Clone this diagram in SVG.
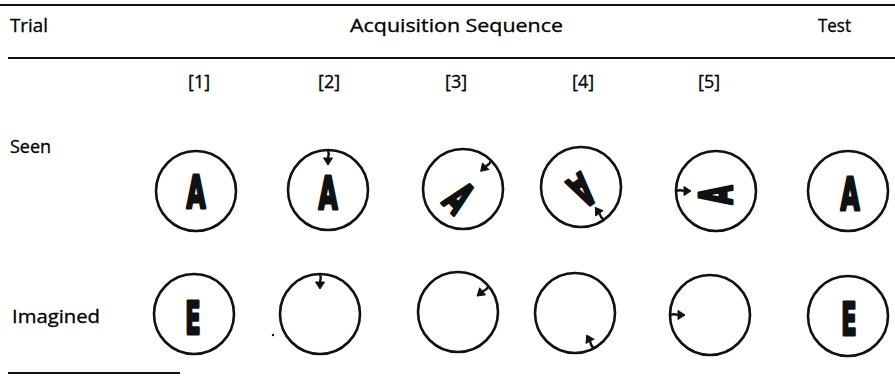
<svg xmlns="http://www.w3.org/2000/svg" width="895" height="376" viewBox="0 0 895 376">
<style>
.lbl{font-family:"Open Sans","Liberation Sans",sans-serif;font-size:18px;fill:#000;stroke:#000;stroke-width:0.3}
.rule{stroke:#111;stroke-width:2;fill:none}
.ring{stroke:#111;stroke-width:2.6;fill:none}
.glyph{font-family:"DejaVu Sans","Liberation Sans",sans-serif;font-weight:bold;font-size:45px;fill:#111;stroke:#111;stroke-width:3;stroke-linejoin:round;text-anchor:middle}
.arr{stroke:#111;stroke-width:2.4;fill:none}
.head{fill:#111;stroke:#111;stroke-width:1;stroke-linejoin:round}
</style>
<defs>
<g id="tick">
<path class="arr" d="M0,-40 q1.5,4 0,8"/>
<polygon class="head" points="-4.5,-32 4.5,-32 0,-25"/>
</g>
</defs>
<rect width="895" height="376" fill="#fff"/>
<g id="rules">
<line class="rule" x1="0" y1="5" x2="895" y2="5"/>
<line class="rule" x1="8" y1="58" x2="895" y2="58"/>
<line class="rule" x1="8" y1="373" x2="180" y2="373"/>
</g>
<g id="headers">
<text class="lbl" x="10" y="32" textLength="38" lengthAdjust="spacingAndGlyphs">Trial</text>
<text class="lbl" x="350" y="32" textLength="213" lengthAdjust="spacingAndGlyphs">Acquisition Sequence</text>
<text class="lbl" x="818" y="32" textLength="33" lengthAdjust="spacingAndGlyphs">Test</text>
<text class="lbl" x="188" y="88">[1]</text>
<text class="lbl" x="318" y="88">[2]</text>
<text class="lbl" x="445" y="88">[3]</text>
<text class="lbl" x="572" y="88">[4]</text>
<text class="lbl" x="698" y="88">[5]</text>
<text class="lbl" x="10" y="153">Seen</text>
<text class="lbl" x="12" y="323" textLength="88" lengthAdjust="spacingAndGlyphs">Imagined</text>
</g>
<g id="seen-1"><circle class="ring" cx="196" cy="191" r="40"/><text class="glyph" transform="translate(196,192) scale(0.55,1)" y="16">A</text></g>
<g id="seen-2"><circle class="ring" cx="328" cy="190" r="40"/><use href="#tick" transform="translate(328,190)"/><text class="glyph" transform="translate(328,193) scale(0.55,1)" y="16">A</text></g>
<g id="seen-3"><circle class="ring" cx="463" cy="189" r="40"/><use href="#tick" transform="translate(463,189) rotate(45)"/><text class="glyph" transform="translate(459,198) rotate(45) scale(0.55,1)" y="16">A</text></g>
<g id="seen-4"><circle class="ring" cx="581" cy="187" r="40"/><use href="#tick" transform="translate(581,187) rotate(145)"/><text class="glyph" transform="translate(582,190) rotate(145) scale(0.55,1)" y="16">A</text></g>
<g id="seen-5"><circle class="ring" cx="716" cy="191" r="40"/><use href="#tick" transform="translate(716,191) rotate(270)"/><text class="glyph" transform="translate(716,195) rotate(270) scale(0.55,1)" y="16">A</text></g>
<g id="seen-test"><circle class="ring" cx="848" cy="191" r="40"/><text class="glyph" transform="translate(850,194) scale(0.55,1)" y="16">A</text></g>
<g id="imag-1"><circle class="ring" cx="194" cy="314" r="40"/><text class="glyph" transform="translate(193,318) scale(0.5,1)" y="16">E</text></g>
<g id="imag-2"><circle class="ring" cx="320" cy="314" r="40"/><use href="#tick" transform="translate(320,314)"/></g>
<g id="imag-3"><circle class="ring" cx="458" cy="312" r="40"/><use href="#tick" transform="translate(458,312) rotate(50)"/></g>
<g id="imag-4"><circle class="ring" cx="575" cy="313" r="40"/><use href="#tick" transform="translate(575,313) rotate(152)"/></g>
<g id="imag-5"><circle class="ring" cx="710" cy="315" r="40"/><use href="#tick" transform="translate(710,315) rotate(270)"/></g>
<g id="imag-test"><circle class="ring" cx="848" cy="316" r="40"/><text class="glyph" transform="translate(849,319) scale(0.5,1)" y="16">E</text></g>
<circle id="speck" cx="273" cy="335" r="1.2" fill="#111"/>
</svg>
